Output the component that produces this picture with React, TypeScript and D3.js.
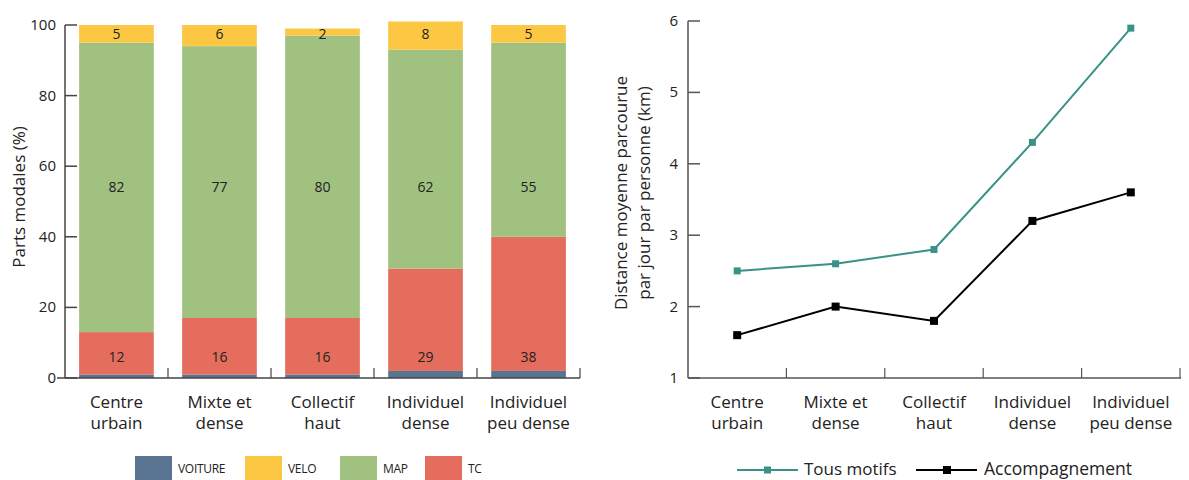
import React from "react";
import * as d3 from "d3";

const categories = ["Centre|urbain", "Mixte et|dense", "Collectif|haut", "Individuel|dense", "Individuel|peu dense"];
const voiture = [1, 1, 1, 2, 2];
const tc = [12, 16, 16, 29, 38];
const map = [82, 77, 80, 62, 55];
const velo = [5, 6, 2, 8, 5];
const yTicksLeft = [0, 20, 40, 60, 80, 100];

const tousMotifs = [2.5, 2.6, 2.8, 4.3, 5.9];
const accompagnement = [1.6, 2.0, 1.8, 3.2, 3.6];
const yTicksRight = [1, 2, 3, 4, 5, 6];

const FONT = "'Open Sans', 'Noto Sans', sans-serif";
const COLORS = { voiture: "#587490", velo: "#fcc844", map: "#a1c181", tc: "#e46d5d" };
const TEAL = "#3a9188";

export default function App() {
  const W = 1189, H = 480;
  // left chart
  const xL = d3.scaleBand<number>().domain(d3.range(categories.length)).range([65, 580]).paddingInner(0.275).paddingOuter(0.137);
  const bandL = d3.scaleBand<number>().domain(d3.range(categories.length)).range([65, 580]);
  const yL = d3.scaleLinear().domain([0, 100]).range([378, 25]);
  const seriesOrder: [string, number[], string][] = [
    ["voiture", voiture, COLORS.voiture],
    ["tc", tc, COLORS.tc],
    ["map", map, COLORS.map],
    ["velo", velo, COLORS.velo],
  ];
  const stacked = categories.map((_, i) => {
    let acc = 0;
    return seriesOrder.map(([k, vals, c]) => {
      const y0 = acc;
      acc += vals[i];
      return { k, y0, y1: acc, c, v: vals[i] };
    });
  });
  const labelPos: Record<string, number> = { tc: 6, map: 54, velo: 97.4 };

  // right chart
  const bandR = d3.scaleBand<number>().domain(d3.range(categories.length)).range([688, 1180]);
  const xR = (i: number) => (bandR(i) as number) + bandR.bandwidth() / 2;
  const yR = d3.scaleLinear().domain([1, 6]).range([378, 21]);
  const line = d3.line<number>().x((_, i) => xR(i)).y((d) => yR(d));

  const catLabel = (cx: number, label: string, key: string) => {
    const [a, b] = label.split("|");
    return (
      <text key={key} x={cx} textAnchor="middle" fontSize={17} fill="#222" fontFamily={FONT}>
        <tspan x={cx} y={408}>{a}</tspan>
        <tspan x={cx} y={429}>{b}</tspan>
      </text>
    );
  };

  const legendLeft = [
    ["VOITURE", COLORS.voiture, 135],
    ["VELO", COLORS.velo, 245],
    ["MAP", COLORS.map, 340],
    ["TC", COLORS.tc, 425],
  ] as [string, string, number][];

  return (
    <svg width={W} height={H} style={{ position: "absolute", left: 0, top: 0, background: "#fff" }} fontFamily={FONT}>
      {/* LEFT CHART */}
      {stacked.map((segs, i) =>
        segs.map((s) => (
          <rect key={`r${i}${s.k}`} x={xL(i)} width={xL.bandwidth()} y={yL(s.y1)} height={yL(s.y0) - yL(s.y1)} fill={s.c} />
        ))
      )}
      {stacked.map((segs, i) =>
        segs.filter((s) => s.k !== "voiture").map((s) => (
          <text key={`t${i}${s.k}`} x={(xL(i) as number) + xL.bandwidth() / 2} y={yL(labelPos[s.k]) + 5} textAnchor="middle" fontSize={14} fill="#222">
            {s.v}
          </text>
        ))
      )}
      <line x1={65} x2={65} y1={yL(100)} y2={yL(0)} stroke="#444" strokeWidth={1.5} />
      <line x1={57} x2={580} y1={yL(0)} y2={yL(0)} stroke="#444" strokeWidth={1.5} />
      {yTicksLeft.map((t) => (
        <g key={`yl${t}`}>
          <line x1={65} x2={77} y1={yL(t)} y2={yL(t)} stroke="#444" strokeWidth={1.5} />
          <text x={56} y={yL(t) + 5} textAnchor="end" fontSize={15} fill="#222">{t}</text>
        </g>
      ))}
      {d3.range(1, categories.length + 1).map((i) => {
        const x = i < categories.length ? (bandL(i) as number) : 580;
        return <line key={`xl${i}`} x1={x} x2={x} y1={yL(0)} y2={yL(0) - 10} stroke="#444" strokeWidth={1.2} />;
      })}
      {categories.map((c, i) => catLabel((bandL(i) as number) + bandL.bandwidth() / 2, c, `cl${i}`))}
      <text transform={`translate(25,197) rotate(-90)`} textAnchor="middle" fontSize={17} fill="#222">
        Parts modales (%)
      </text>
      {legendLeft.map(([name, col, x]) => (
        <g key={name}>
          <rect x={x} y={456} width={37} height={26} fill={col} />
          <text x={x + 43} y={473} fontSize={12} fill="#222" letterSpacing={-0.3}>{name}</text>
        </g>
      ))}

      {/* RIGHT CHART */}
      <line x1={688} x2={688} y1={yR(6)} y2={yR(1)} stroke="#555" strokeWidth={1.5} />
      <line x1={688} x2={1181} y1={yR(1)} y2={yR(1)} stroke="#555" strokeWidth={1.5} />
      {yTicksRight.map((t) => (
        <g key={`yr${t}`}>
          <line x1={688} x2={700} y1={yR(t)} y2={yR(t)} stroke="#555" strokeWidth={1.5} />
          <text x={678} y={yR(t) + 5} textAnchor="end" fontSize={15} fill="#222">{t}</text>
        </g>
      ))}
      {d3.range(1, categories.length + 1).map((i) => {
        const x = i < categories.length ? (bandR(i) as number) : 1180;
        return <line key={`xr${i}`} x1={x} x2={x} y1={yR(1)} y2={yR(1) - 10} stroke="#555" strokeWidth={1.2} />;
      })}
      {categories.map((c, i) => catLabel(xR(i), c, `cr${i}`))}
      <text transform={`translate(627,193) rotate(-90)`} textAnchor="middle" fontSize={17} fill="#222">
        <tspan x={0} dy={0}>Distance moyenne parcourue</tspan>
        <tspan x={0} dy={23}>par jour par personne (km)</tspan>
      </text>
      <path d={line(tousMotifs) as string} fill="none" stroke={TEAL} strokeWidth={2} />
      <path d={line(accompagnement) as string} fill="none" stroke="#000" strokeWidth={2} />
      {tousMotifs.map((v, i) => (
        <rect key={`mt${i}`} x={xR(i) - 3.5} y={yR(v) - 3.5} width={7} height={7} fill={TEAL} />
      ))}
      {accompagnement.map((v, i) => (
        <rect key={`ma${i}`} x={xR(i) - 4} y={yR(v) - 4} width={8} height={8} fill="#000" />
      ))}
      {/* right legend */}
      <line x1={737} x2={798} y1={470} y2={470} stroke={TEAL} strokeWidth={2} />
      <rect x={764} y={466.5} width={7} height={7} fill={TEAL} />
      <text x={804} y={475} fontSize={17} fill="#222">Tous motifs</text>
      <line x1={916} x2={977} y1={470} y2={470} stroke="#000" strokeWidth={2} />
      <rect x={943} y={466} width={8} height={8} fill="#000" />
      <text x={984} y={475} fontSize={17.5} fill="#222">Accompagnement</text>
    </svg>
  );
}
